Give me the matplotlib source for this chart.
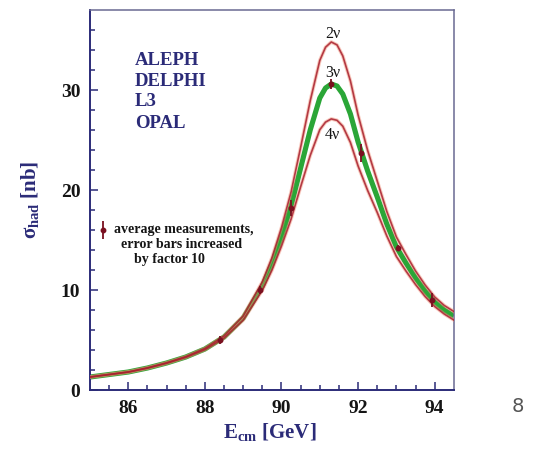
import matplotlib
matplotlib.use('Agg')
import matplotlib.pyplot as plt

plt.rcParams['mathtext.fontset'] = 'custom'
plt.rcParams['mathtext.rm'] = 'Liberation Serif:bold'
plt.rcParams['mathtext.bf'] = 'Liberation Serif:bold'
plt.rcParams['mathtext.it'] = 'Liberation Serif:bold'

# energy grid (GeV)
e_cm = [85.0, 85.5, 86.0, 86.5, 87.0, 87.5, 88.0, 88.5, 89.0, 89.5, 89.75,
        90.0, 90.25, 90.5, 90.75, 91.0, 91.15, 91.3, 91.45, 91.6, 91.8,
        92.0, 92.25, 92.5, 92.75, 93.0, 93.25, 93.5, 93.75, 94.0, 94.25, 94.5]

# hadronic cross section (nb) for 2, 3 and 4 neutrino families
sigma_2nu = [1.31, 1.56, 1.81, 2.22, 2.73, 3.34, 4.16, 5.41, 7.40, 10.82, 13.22,
             16.24, 19.79, 24.27, 28.92, 32.96, 34.28, 34.80, 34.51, 33.41, 30.90,
             27.50, 23.95, 20.90, 17.85, 15.30, 13.55, 11.90, 10.50, 9.30, 8.45, 7.85]
sigma_3nu = [1.30, 1.55, 1.80, 2.20, 2.70, 3.30, 4.10, 5.30, 7.20, 10.40, 12.60,
             15.30, 18.40, 22.20, 26.00, 29.20, 30.20, 30.60, 30.40, 29.60, 27.60,
             24.80, 21.90, 19.30, 16.60, 14.30, 12.70, 11.20, 9.90, 8.80, 8.00, 7.40]
sigma_4nu = [1.29, 1.54, 1.79, 2.18, 2.67, 3.26, 4.03, 5.19, 6.99, 9.98, 11.98,
             14.40, 17.09, 20.33, 23.45, 26.03, 26.79, 27.11, 26.97, 26.38, 24.75,
             22.40, 19.95, 17.75, 15.40, 13.35, 11.90, 10.55, 9.35, 8.35, 7.60, 7.00]

# averaged LEP measurements (errors x10)
meas_e = [88.40, 89.45, 90.24, 91.28, 92.07, 93.03, 93.94]
meas_sigma = [5.0, 10.0, 18.2, 30.6, 23.7, 14.2, 9.0]
meas_err = [0.4, 0.4, 0.8, 0.5, 0.9, 0.3, 0.7]

experiments = ['ALEPH', 'DELPHI', 'L3', 'OPAL']
curve_labels = ['2\u03bd', '3\u03bd', '4\u03bd']

navy = '#2b2b78'
red = '#a8202e'
green = '#2aa637'
serif = ['Liberation Serif', 'DejaVu Serif']

fig = plt.figure(figsize=(5.39, 4.49), dpi=100)
ax = fig.add_axes([0.167, 0.1314, 0.675, 0.8463])

ax.plot(e_cm, sigma_3nu, color=green, lw=3.7, solid_capstyle='butt', zorder=2)
for s in (sigma_2nu, sigma_4nu):
    ax.plot(e_cm, s, color='#f08a70', lw=2.6, alpha=0.45, zorder=3)
    ax.plot(e_cm, s, color=red, lw=1.2, alpha=0.85, zorder=4)

ax.errorbar(meas_e, meas_sigma, yerr=meas_err, fmt='o', ms=3.2, color='#7a1020',
            elinewidth=1.3, capsize=0, zorder=5)

# legend-like marker and text
ax.errorbar([85.34], [16.05], yerr=[0.9], fmt='o', ms=3.2, color='#7a1020',
            elinewidth=1.3, capsize=0, zorder=5)
legend_lines = ['average measurements,', 'error bars increased', 'by factor 10']
legend_x = [114, 121, 134]
legend_y = [230, 245, 259]
for txt, px, py in zip(legend_lines, legend_x, legend_y):
    fig.text(px / 539, 1 - py / 449, txt, family=serif, fontweight='bold',
             fontsize=10, color='#151515', va='center', ha='left')

for i, name in enumerate(experiments):
    fig.text(135 / 539, 1 - (60 + 21 * i) / 449, name, family=serif,
             fontweight='bold', fontsize=13.5, color=navy, va='center', ha='left')

lab_pos = [(333, 34), (333, 73), (332, 135)]
for lab, (px, py) in zip(curve_labels, lab_pos):
    fig.text(px / 539, 1 - py / 449, lab, family=serif, fontsize=11.5,
             color='#151515', va='center', ha='center')

ax.set_xlim(85, 94.5)
ax.set_ylim(0, 38)
ax.set_xticks([86, 88, 90, 92, 94])
ax.set_xticks([85.5 + 0.5 * k for k in range(18)], minor=True)
ax.set_yticks([0, 10, 20, 30])
ax.set_yticks([2 * k for k in range(19)], minor=True)
ax.tick_params(which='both', direction='in', top=False, right=False, color=navy,
               labelsize=14, labelcolor='#151515', width=1.1)
ax.tick_params(which='major', length=6, pad=7)
ax.tick_params(which='minor', length=3.5)
for lbl in ax.get_xticklabels() + ax.get_yticklabels():
    lbl.set_family(serif)
    lbl.set_fontweight('bold')

for side in ('left', 'bottom'):
    ax.spines[side].set_color(navy)
    ax.spines[side].set_linewidth(1.4)
for side in ('top', 'right'):
    ax.spines[side].set_color('#6a6a92')
    ax.spines[side].set_linewidth(1.1)

fig.text(30 / 539, 1 - 200 / 449, r'$\sigma_{\mathrm{had}}$ [nb]',
         rotation=90, family=serif, fontweight='bold', fontsize=15, color=navy,
         va='center', ha='center')
fig.text(270 / 539, 1 - 432 / 449, r'E$_{\mathrm{cm}}$ [GeV]', family=serif,
         fontweight='bold', fontsize=15, color=navy, va='center', ha='center')

fig.text(518 / 539, 1 - 407 / 449, '8', family='DejaVu Sans', fontsize=14,
         color='#555555', va='center', ha='center')

fig.savefig('out.png', dpi=100)
